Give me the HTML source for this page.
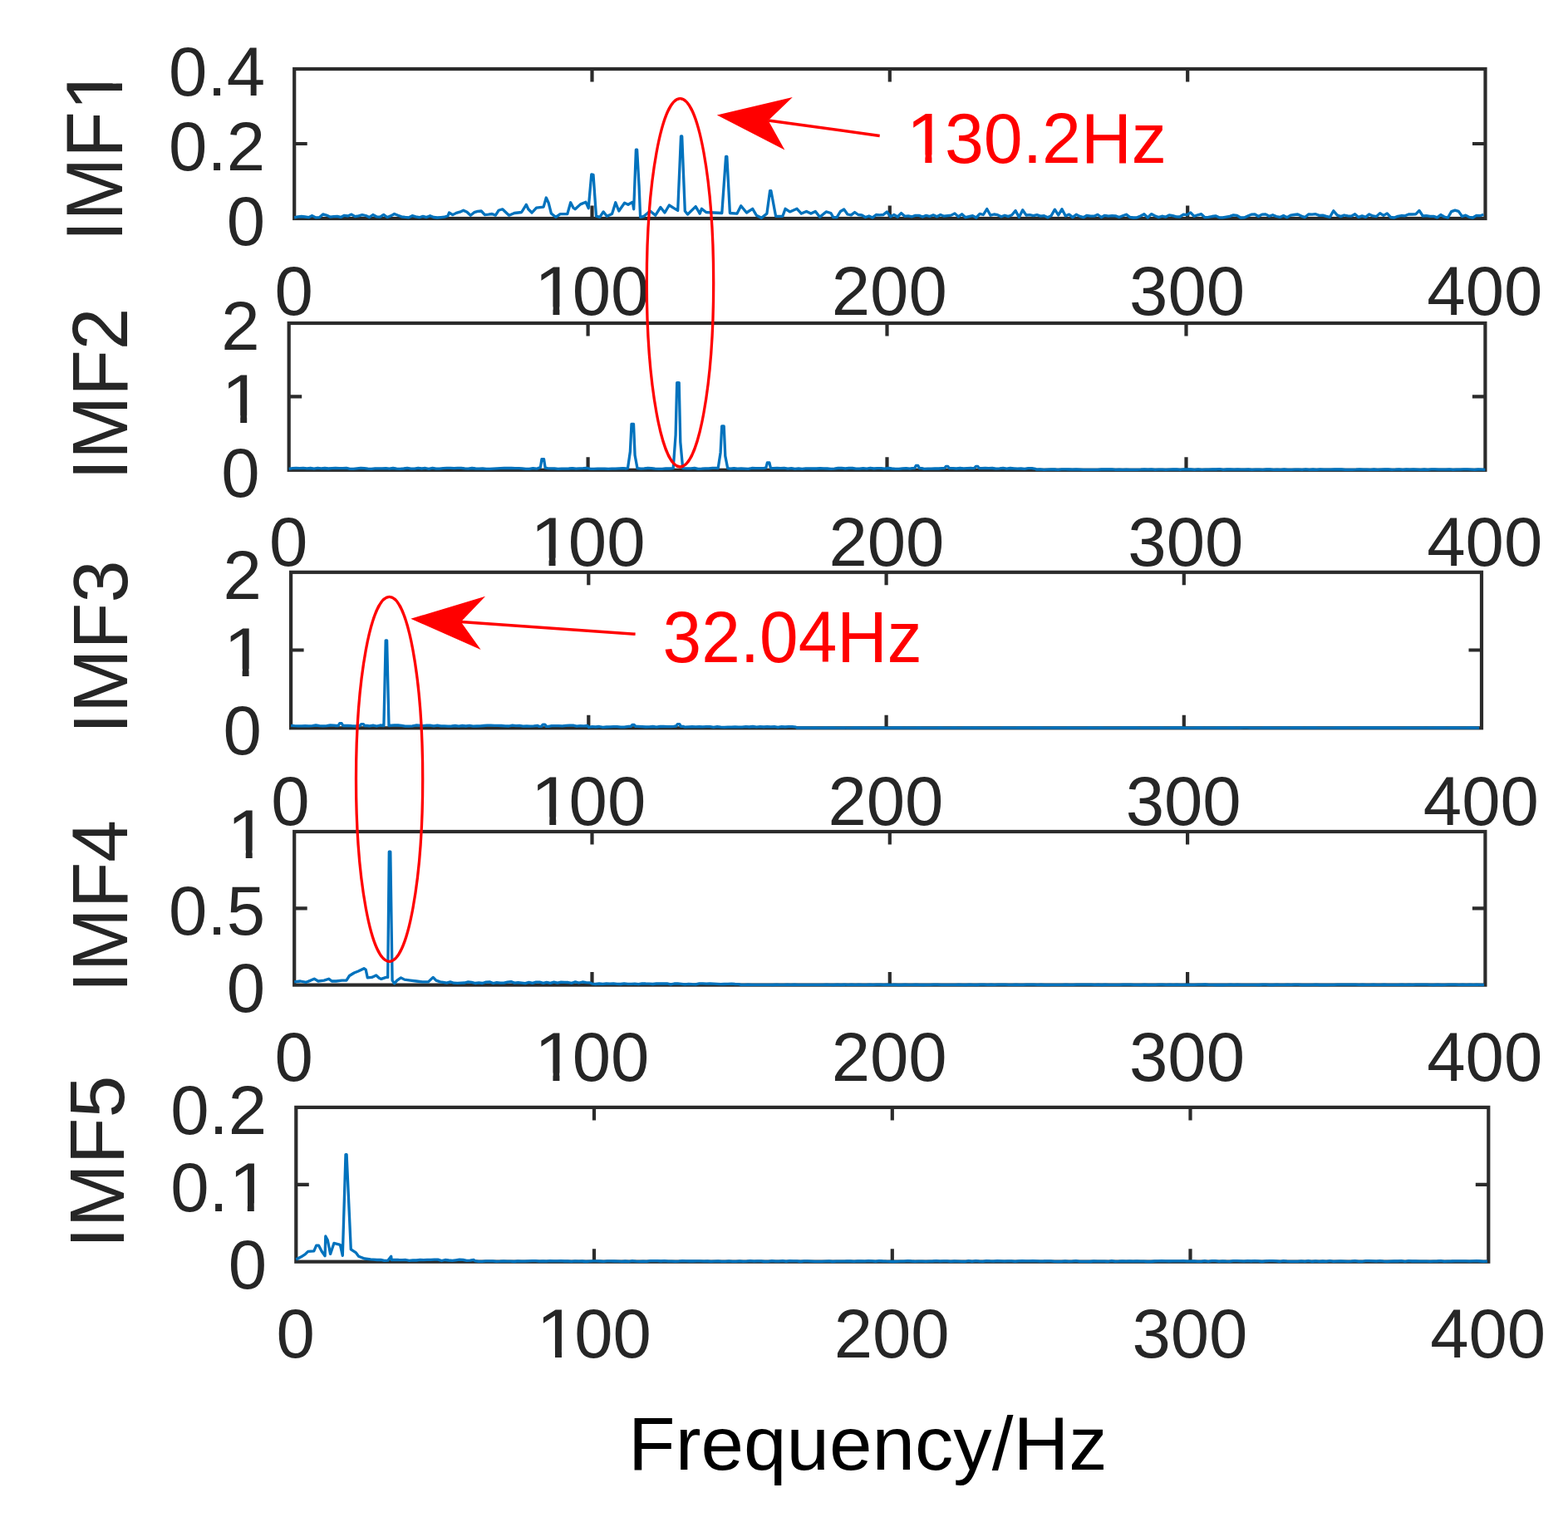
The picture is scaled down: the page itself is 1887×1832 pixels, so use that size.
<!DOCTYPE html>
<html><head><meta charset="utf-8"><title>IMF spectra</title>
<style>html,body{margin:0;padding:0;background:#fff;}svg{display:block;}</style></head>
<body>
<svg width="1887" height="1832" viewBox="0 0 1887 1832" font-family="'Liberation Sans', Arial, Helvetica, sans-serif">
<rect width="1887" height="1832" fill="#fff"/>
<defs><clipPath id="c1"><path d="M-2,-3H3V3H-2ZM0.0488,-0.1123H0.2515V0.12H0.0488ZM0.3398,-0.1123H0.5371V0.12H0.3398Z" clip-rule="evenodd"/></clipPath></defs>
<rect x="354.2" y="83.0" width="1433.3" height="180.0" fill="none" stroke="#2b2b2b" stroke-width="4.2"/>
<path d="M712.5,263.0V247.5M712.5,83.0V98.5M1070.8,263.0V247.5M1070.8,83.0V98.5M1429.2,263.0V247.5M1429.2,83.0V98.5M354.2,173.0H369.7M1787.5,173.0H1772.0" stroke="#2b2b2b" stroke-width="4.2" fill="none"/>
<polyline points="354.2,261.8 358.5,260.8 362.8,260.5 367.1,261.0 371.4,261.7 375.7,259.6 380.0,261.9 384.3,261.7 388.6,257.9 392.9,259.1 397.2,261.1 401.5,260.7 405.8,260.3 410.1,261.4 414.4,259.3 418.7,260.0 423.0,258.1 427.3,260.7 431.6,259.9 435.9,258.7 440.2,259.5 444.5,261.5 448.8,258.5 453.1,260.8 457.4,261.1 461.7,258.4 466.0,261.5 470.3,259.9 474.6,257.5 478.9,259.2 483.2,260.8 487.5,261.4 491.8,261.9 496.1,259.7 500.4,260.9 504.7,261.7 509.0,260.3 513.3,261.6 517.6,259.7 521.9,261.5 526.2,262.0 530.5,261.6 534.8,261.2 539.1,259.7 540.5,256.0 544.8,258.6 549.1,256.4 553.4,255.2 557.7,253.2 562.0,255.3 566.3,259.2 570.6,255.7 574.9,254.4 579.2,254.0 583.5,258.6 587.8,258.1 592.1,257.5 596.4,259.1 600.0,253.3 604.7,251.8 612.6,259.2 619.0,256.5 627.6,255.5 633.3,246.3 635.8,251.8 640.1,256.0 645.5,250.2 654.1,249.1 657.3,238.0 660.2,244.3 663.4,257.0 668.8,261.3 674.2,257.6 682.8,257.6 686.7,243.8 690.0,250.2 692.1,251.8 698.6,245.9 705.0,243.3 708.2,250.7 711.8,209.9 714.0,210.3 717.5,260.2 721.8,261.3 726.1,254.9 730.4,260.2 736.5,257.6 740.8,243.8 744.8,254.0 751.6,244.3 755.9,246.3 761.3,243.2 762.7,251.8 765.4,180.2 766.6,180.2 769.1,224.3 770.6,261.3 774.9,260.3 782.4,254.0 788.8,259.2 794.9,249.5 800.0,256.0 805.3,247.0 810.7,250.4 815.7,253.3 819.5,164.0 820.7,164.0 824.3,254.0 827.5,258.1 837.2,248.6 842.2,257.1 844.4,251.3 849.8,255.5 868.8,256.5 873.6,188.3 874.8,188.3 878.4,256.5 887.0,257.1 891.7,247.7 898.5,256.0 905.7,251.3 910.3,259.2 916.4,262.3 922.9,257.1 926.6,229.7 927.9,229.7 933.6,260.3 941.9,260.3 945.1,251.3 950.5,254.9 959.1,251.3 964.4,257.1 970.5,254.4 975.9,257.1 981.3,254.4 986.6,261.3 994.2,254.9 999.9,256.5 1002.8,261.6 1007.1,261.7 1011.4,254.5 1015.7,252.0 1020.0,258.0 1024.3,258.9 1028.6,255.5 1032.9,258.5 1037.2,259.0 1041.5,261.5 1045.8,260.0 1050.1,261.9 1054.4,258.5 1058.7,258.9 1063.0,258.5 1067.3,254.9 1071.6,260.9 1075.9,258.5 1080.2,261.0 1084.5,256.6 1088.8,260.3 1093.1,259.9 1097.4,260.8 1101.7,259.4 1106.0,259.4 1110.3,261.0 1114.6,259.3 1118.9,260.5 1123.2,258.8 1127.5,260.8 1131.8,258.5 1136.1,260.2 1140.4,259.6 1144.7,259.1 1149.0,256.9 1153.3,260.9 1157.6,257.7 1161.9,261.7 1166.2,260.6 1170.5,259.6 1174.8,262.0 1179.1,257.4 1183.4,258.5 1187.7,251.5 1192.0,259.2 1196.3,258.0 1200.6,258.7 1204.9,260.8 1209.2,259.2 1213.5,260.6 1217.8,258.7 1222.1,253.6 1226.4,261.4 1230.7,252.8 1235.0,259.0 1239.3,258.7 1243.6,259.6 1247.9,258.6 1252.2,260.1 1256.5,259.6 1260.8,261.8 1265.1,259.6 1269.4,252.2 1273.7,258.9 1278.0,251.7 1282.3,259.9 1286.6,258.1 1290.9,261.6 1295.2,258.2 1299.5,260.4 1303.8,261.7 1308.1,259.3 1312.4,260.1 1316.7,260.2 1321.0,258.3 1325.3,261.5 1329.6,259.3 1333.9,260.2 1338.2,259.7 1342.5,259.9 1346.8,261.5 1351.1,259.8 1355.4,258.2 1359.7,261.3 1364.0,262.0 1368.3,261.8 1372.6,260.0 1376.9,257.7 1381.2,261.9 1385.5,257.6 1389.8,259.7 1394.1,261.6 1398.4,260.2 1402.7,261.2 1407.0,258.9 1411.3,259.7 1415.6,260.8 1419.9,261.0 1424.2,258.2 1428.5,258.7 1432.8,255.9 1437.1,260.3 1441.4,258.8 1445.7,257.7 1450.0,261.7 1454.3,261.4 1458.6,260.5 1462.9,259.8 1467.2,261.8 1471.5,261.9 1475.8,261.1 1480.1,260.4 1484.4,258.8 1488.7,259.4 1493.0,262.0 1497.3,261.9 1501.6,260.1 1505.9,258.2 1510.2,258.0 1514.5,260.5 1518.8,258.1 1523.1,257.9 1527.4,260.3 1531.7,258.7 1536.0,260.5 1540.3,261.4 1544.6,259.5 1548.9,261.7 1553.2,259.1 1557.5,258.5 1561.8,258.0 1566.1,260.1 1570.4,261.6 1574.7,258.0 1579.0,258.2 1583.3,257.7 1587.6,259.4 1591.9,259.1 1596.2,260.4 1600.5,261.3 1604.8,253.7 1609.1,258.9 1613.4,260.6 1617.7,259.0 1622.0,259.8 1626.3,260.1 1630.6,257.7 1634.9,261.4 1639.2,259.9 1643.5,261.4 1647.8,257.9 1652.1,259.9 1656.4,260.6 1660.7,256.6 1665.0,259.4 1669.3,256.9 1673.6,261.5 1677.9,262.0 1682.2,260.3 1686.5,259.5 1690.8,259.8 1695.1,258.0 1699.4,258.0 1703.7,257.9 1708.0,253.4 1712.3,260.0 1716.6,259.7 1720.9,260.3 1725.2,260.3 1729.5,261.9 1733.8,258.5 1738.1,261.0 1742.4,262.0 1746.7,254.6 1751.0,253.1 1755.3,254.4 1759.6,260.5 1763.9,259.1 1768.2,261.4 1772.5,262.0 1776.8,259.4 1781.1,259.7 1785.4,258.2" fill="none" stroke="#0072BD" stroke-width="3.3" stroke-linejoin="round"/>
<g transform="matrix(83.3580 0 0 84.2000 330.42 378.63)"><text font-size="1" fill="#262626">0</text></g>
<g transform="matrix(83.3580 0 0 84.2000 642.38 378.63)" fill="#262626"><g transform="translate(0.0000,0) matrix(1.082 0 0 1 0.0048 0)"><text font-size="1" clip-path="url(#c1)">1</text></g><text x="0.5562" font-size="1">00</text></g>
<g transform="matrix(83.3580 0 0 84.2000 1000.71 378.63)"><text font-size="1" fill="#262626">200</text></g>
<g transform="matrix(83.3580 0 0 84.2000 1359.03 378.63)"><text font-size="1" fill="#262626">300</text></g>
<g transform="matrix(83.3580 0 0 84.2000 1717.36 378.63)"><text font-size="1" fill="#262626">400</text></g>
<g transform="matrix(83.3580 0 0 84.2000 272.64 294.94)"><text font-size="1" fill="#262626">0</text></g>
<g transform="matrix(83.3580 0 0 84.2000 203.12 204.94)"><text font-size="1" fill="#262626">0.2</text></g>
<g transform="matrix(83.3580 0 0 84.2000 203.12 114.94)"><text font-size="1" fill="#262626">0.4</text></g>
<g transform="matrix(0 -90.9210 97.0182 0 146.50 290.81)" fill="#262626"><text x="0.0000" font-size="1">IMF</text><g transform="translate(1.7217,0) matrix(1.082 0 0 1 0.0048 0)"><text font-size="1" clip-path="url(#c1)">1</text></g></g>
<rect x="347.7" y="389.0" width="1439.7" height="176.8" fill="none" stroke="#2b2b2b" stroke-width="4.2"/>
<path d="M707.6,565.8V550.3M707.6,389.0V404.5M1067.5,565.8V550.3M1067.5,389.0V404.5M1427.5,565.8V550.3M1427.5,389.0V404.5M347.7,477.4H363.2M1787.4,477.4H1771.9" stroke="#2b2b2b" stroke-width="4.2" fill="none"/>
<polyline points="347.7,564.3 352.0,563.7 356.3,563.4 360.7,563.7 365.0,563.4 369.3,563.8 373.6,563.5 377.9,564.2 382.3,563.4 386.6,563.9 390.9,563.5 395.2,564.0 399.5,563.7 403.8,563.5 408.2,563.6 412.5,563.7 416.8,563.4 421.1,564.3 425.4,564.3 429.8,563.8 434.1,563.4 438.4,563.7 442.7,564.1 447.0,564.3 451.4,563.9 455.7,563.9 460.0,563.9 464.3,563.7 468.6,564.1 473.0,563.5 477.3,564.1 481.6,564.3 485.9,564.0 490.2,563.4 494.5,564.2 498.9,564.1 503.2,563.4 507.5,564.0 511.8,563.5 516.1,564.3 520.5,563.4 524.8,564.1 529.1,564.2 533.4,563.6 537.7,563.3 542.1,563.4 546.4,563.6 550.7,563.4 555.0,563.3 559.3,563.8 563.7,564.2 568.0,563.5 572.3,564.0 576.6,564.1 580.9,563.9 585.3,564.3 589.6,564.4 593.9,564.1 598.2,563.8 602.5,563.6 606.8,563.4 611.2,563.5 615.5,563.4 619.8,563.7 624.1,563.6 628.4,563.8 632.8,564.3 637.1,564.3 641.4,563.6 645.7,564.2 647.5,563.6 650.4,562.5 652.0,552.6 654.5,552.6 656.2,563.2 659.0,563.6 663.0,563.8 667.3,563.9 671.6,564.3 676.0,564.1 680.3,564.1 684.6,564.0 688.9,563.6 693.2,564.2 697.5,563.9 701.9,563.7 706.2,563.4 710.5,564.3 714.8,564.3 719.1,564.2 723.5,564.2 727.8,564.2 732.1,564.3 736.4,564.2 740.7,564.1 745.1,563.9 749.4,563.7 753.7,564.0 755.5,563.6 758.4,543.6 760.0,510.3 762.5,510.3 764.1,548.0 767.0,563.6 771.0,564.2 775.3,563.9 779.6,563.5 783.9,563.6 788.2,564.2 792.6,564.3 796.9,564.3 801.2,563.9 805.5,564.0 810.2,563.6 813.1,523.7 814.7,460.6 817.2,460.6 818.8,532.1 821.7,563.6 827.1,563.8 831.4,563.8 835.8,563.4 840.1,564.3 844.4,564.2 848.7,563.8 853.0,563.8 857.4,563.3 861.7,563.3 864.2,563.6 867.1,544.7 868.7,513.0 871.2,513.0 872.8,548.9 875.7,563.6 878.9,564.2 883.3,563.7 887.6,564.1 891.9,564.0 896.2,564.2 900.5,564.4 904.9,563.5 909.2,563.6 913.5,563.6 918.9,563.6 921.8,563.1 923.4,557.0 925.9,557.0 927.5,563.6 930.4,563.6 935.1,563.5 939.4,563.6 943.7,563.4 948.1,564.1 952.4,563.6 956.7,564.3 961.0,563.8 965.3,564.3 969.7,563.8 974.0,563.8 978.3,564.0 982.6,564.0 986.9,563.6 991.2,563.9 995.6,564.0 999.9,564.3 1004.2,564.1 1008.5,563.5 1012.8,563.4 1017.2,564.0 1021.5,563.5 1025.8,563.5 1030.1,564.2 1034.4,564.1 1038.8,563.6 1043.1,564.1 1047.4,563.4 1051.7,564.0 1056.0,563.6 1060.4,563.6 1064.7,564.2 1069.0,563.5 1073.3,564.0 1077.6,564.3 1081.9,564.3 1086.3,563.9 1090.6,563.7 1094.9,564.1 1097.8,563.6 1100.7,563.6 1102.3,560.5 1104.8,560.5 1106.4,563.6 1109.3,563.6 1112.2,564.4 1116.5,564.1 1120.8,564.2 1125.1,563.9 1129.5,564.0 1133.8,563.6 1136.7,563.6 1138.3,561.4 1140.8,561.4 1142.4,563.6 1145.3,563.6 1146.7,563.7 1151.1,564.0 1155.4,563.5 1159.7,563.9 1164.0,563.6 1168.3,563.4 1169.8,563.6 1172.6,563.6 1174.3,561.4 1176.8,561.4 1178.4,563.6 1181.3,563.6 1185.6,563.4 1189.9,563.6 1194.2,563.5 1198.6,564.2 1202.9,563.9 1207.2,563.4 1211.5,564.1 1215.8,563.5 1220.2,563.8 1224.5,564.2 1228.8,564.0 1233.1,564.3 1237.4,563.7 1241.8,563.6 1246.1,564.4 1247.5,565.2 1251.8,564.9 1256.2,565.3 1260.5,565.1 1264.8,564.9 1269.1,565.0 1273.4,565.4 1277.7,564.8 1282.1,564.9 1286.4,565.0 1290.7,565.2 1295.0,565.0 1299.3,565.2 1303.7,565.4 1308.0,565.4 1312.3,565.4 1316.6,565.3 1320.9,565.3 1325.3,565.0 1329.6,565.0 1333.9,565.0 1338.2,564.9 1342.5,565.4 1346.9,565.2 1351.2,565.4 1355.5,565.2 1359.8,565.4 1364.1,565.4 1368.4,565.4 1372.8,565.2 1377.1,564.9 1381.4,565.2 1385.7,564.9 1390.0,565.3 1394.4,565.2 1398.7,565.1 1403.0,565.4 1407.3,565.1 1411.6,565.0 1416.0,564.9 1420.3,565.4 1424.6,564.9 1428.9,565.0 1433.2,565.0 1437.6,565.4 1441.9,564.8 1446.2,565.3 1450.5,565.1 1454.8,565.1 1459.1,564.8 1463.5,565.0 1467.8,564.7 1472.1,565.3 1476.4,565.0 1480.7,565.0 1485.1,565.1 1489.4,565.0 1493.7,565.1 1498.0,565.2 1502.3,565.0 1506.7,565.4 1511.0,565.1 1515.3,565.1 1519.6,565.3 1523.9,565.0 1528.3,565.0 1532.6,565.4 1536.9,565.2 1541.2,565.4 1545.5,565.0 1549.8,565.4 1554.2,565.3 1558.5,565.1 1562.8,565.1 1567.1,565.4 1571.4,564.8 1575.8,565.3 1580.1,565.0 1584.4,565.3 1588.7,565.0 1593.0,565.2 1597.4,565.2 1601.7,565.1 1606.0,565.0 1610.3,565.0 1614.6,565.0 1619.0,565.3 1623.3,565.4 1627.6,565.3 1631.9,565.2 1636.2,565.0 1640.6,565.2 1644.9,565.2 1649.2,565.4 1653.5,565.0 1657.8,565.4 1662.1,565.1 1666.5,565.0 1670.8,565.0 1675.1,565.3 1679.4,565.2 1683.7,564.8 1688.1,565.4 1692.4,565.0 1696.7,565.1 1701.0,565.0 1705.3,565.2 1709.7,565.4 1714.0,565.0 1718.3,565.4 1722.6,564.8 1726.9,564.9 1731.3,565.2 1735.6,565.1 1739.9,565.1 1744.2,564.8 1748.5,565.4 1752.8,565.2 1757.2,565.2 1761.5,564.9 1765.8,564.9 1770.1,565.1 1774.4,565.4 1778.8,565.0 1783.1,565.2 1787.4,565.4" fill="none" stroke="#0072BD" stroke-width="3.3" stroke-linejoin="round"/>
<g transform="matrix(83.3580 0 0 84.2000 323.92 680.93)"><text font-size="1" fill="#262626">0</text></g>
<g transform="matrix(83.3580 0 0 84.2000 637.48 680.93)" fill="#262626"><g transform="translate(0.0000,0) matrix(1.082 0 0 1 0.0048 0)"><text font-size="1" clip-path="url(#c1)">1</text></g><text x="0.5562" font-size="1">00</text></g>
<g transform="matrix(83.3580 0 0 84.2000 997.41 680.93)"><text font-size="1" fill="#262626">200</text></g>
<g transform="matrix(83.3580 0 0 84.2000 1357.33 680.93)"><text font-size="1" fill="#262626">300</text></g>
<g transform="matrix(83.3580 0 0 84.2000 1717.26 680.93)"><text font-size="1" fill="#262626">400</text></g>
<g transform="matrix(83.3580 0 0 84.2000 266.14 597.74)"><text font-size="1" fill="#262626">0</text></g>
<g transform="matrix(83.3580 0 0 84.2000 266.14 509.34)" fill="#262626"><g transform="translate(0.0000,0) matrix(1.082 0 0 1 0.0048 0)"><text font-size="1" clip-path="url(#c1)">1</text></g></g>
<g transform="matrix(83.3580 0 0 84.2000 266.14 421.36)"><text font-size="1" fill="#262626">2</text></g>
<g transform="matrix(0 -91.1007 94.3369 0 153.30 578.03)"><text font-size="1" fill="#262626">IMF2</text></g>
<rect x="350.1" y="688.8" width="1432.9" height="187.5" fill="none" stroke="#2b2b2b" stroke-width="4.2"/>
<path d="M708.3,876.3V860.8M708.3,688.8V704.3M1066.6,876.3V860.8M1066.6,688.8V704.3M1424.8,876.3V860.8M1424.8,688.8V704.3M350.1,782.5H365.6M1783.0,782.5H1767.5" stroke="#2b2b2b" stroke-width="4.2" fill="none"/>
<polyline points="350.1,873.4 354.4,873.7 358.7,873.8 363.0,873.9 367.3,873.6 371.6,873.9 375.9,873.7 380.2,873.0 384.5,873.6 388.8,873.9 393.1,873.6 397.4,873.0 401.7,873.1 404.2,873.5 407.1,873.5 408.7,870.7 411.2,870.7 412.8,873.5 415.7,873.5 418.9,873.3 423.2,873.7 427.5,874.0 430.3,873.5 433.2,873.5 434.8,871.6 437.3,871.6 438.9,873.5 441.8,873.5 444.7,873.8 449.0,873.1 453.3,874.0 457.6,873.0 461.9,873.5 464.2,770.9 465.6,770.9 468.0,873.5 474.8,872.9 479.1,873.0 483.4,873.4 487.7,874.1 492.0,874.2 496.3,873.9 500.6,873.0 504.9,873.2 509.2,873.7 513.5,873.2 517.7,873.1 522.0,873.8 526.3,873.1 530.6,873.9 534.9,873.8 539.2,874.2 543.5,874.0 547.8,873.5 552.1,874.2 556.4,873.5 560.7,874.0 565.0,873.3 569.3,874.1 573.6,874.0 577.9,873.9 582.2,873.5 586.5,873.2 590.8,873.2 595.1,873.3 599.4,873.3 603.7,873.5 608.0,873.8 612.3,874.0 616.6,873.1 620.9,873.7 625.2,873.4 629.5,874.1 633.8,873.8 638.1,874.1 642.4,873.8 646.7,873.3 648.9,874.4 651.7,874.2 653.3,872.1 655.8,872.1 657.5,874.4 660.3,874.4 663.9,873.7 668.2,873.7 672.5,873.6 676.8,873.9 681.1,873.3 685.4,873.1 689.7,873.2 694.0,874.2 698.3,873.6 702.6,873.8 706.9,873.5 708.3,875.3 712.6,874.7 716.9,875.0 721.2,874.5 725.5,875.3 729.8,875.0 734.1,874.9 738.4,874.6 742.7,874.7 747.0,875.2 751.3,875.1 756.3,874.4 759.2,874.4 760.8,872.5 763.3,872.5 764.9,874.4 767.8,874.4 772.8,874.6 777.1,875.0 781.4,874.8 785.7,874.5 790.0,875.2 794.3,874.5 798.6,874.5 802.9,874.7 807.2,874.7 810.8,874.4 813.6,874.0 815.3,871.6 817.8,871.6 819.4,874.4 822.2,874.4 824.4,875.2 828.7,874.8 833.0,874.7 837.3,874.9 841.6,874.7 845.9,874.9 850.2,874.6 854.5,874.7 858.8,875.3 863.1,874.6 867.4,875.1 871.7,875.3 876.0,875.2 880.3,875.1 884.6,874.9 888.9,875.1 893.2,875.2 897.5,874.6 901.8,875.0 906.1,874.5 910.4,875.1 914.7,874.7 919.0,875.0 923.3,874.6 927.6,874.8 931.9,874.7 936.2,875.3 940.5,874.7 944.8,875.0 949.1,874.7 953.4,874.6 957.6,875.2 959.1,876.2 963.4,876.0 967.7,875.9 972.0,876.0 976.3,876.1 980.6,876.0 984.9,876.2 989.2,876.2 993.5,876.0 997.8,876.1 1002.1,876.0 1006.4,876.1 1010.7,876.1 1015.0,875.9 1019.3,876.1 1023.6,876.1 1027.9,876.0 1032.2,875.9 1036.5,876.2 1040.8,876.0 1045.1,876.1 1049.4,876.1 1053.7,876.1 1058.0,876.1 1062.3,876.0 1066.5,876.1 1070.8,876.1 1075.1,876.0 1079.4,876.0 1083.7,876.0 1088.0,876.1 1092.3,875.9 1096.6,876.2 1100.9,876.2 1105.2,876.0 1109.5,876.1 1113.8,876.2 1118.1,876.1 1122.4,876.1 1126.7,876.1 1131.0,876.0 1135.3,876.1 1139.6,876.2 1143.9,876.1 1148.2,875.9 1152.5,876.1 1156.8,876.1 1161.1,876.0 1165.4,875.9 1169.7,876.1 1174.0,876.0 1178.3,876.1 1182.6,876.1 1186.9,876.0 1191.2,876.1 1195.5,876.1 1199.8,876.2 1204.1,876.1 1208.4,876.0 1212.7,876.0 1217.0,876.2 1221.3,876.1 1225.6,876.0 1229.9,876.0 1234.2,876.0 1238.5,876.0 1242.8,876.1 1247.1,876.0 1251.4,876.0 1255.7,876.1 1260.0,876.1 1264.3,876.2 1268.6,876.0 1272.9,876.0 1277.2,876.2 1281.5,876.1 1285.8,875.9 1290.1,876.2 1294.4,876.2 1298.7,876.2 1303.0,876.1 1307.3,876.1 1311.6,876.0 1315.9,876.2 1320.2,876.1 1324.5,875.9 1328.8,876.2 1333.1,876.1 1337.4,876.1 1341.7,876.2 1346.0,876.1 1350.3,876.0 1354.6,876.0 1358.9,876.0 1363.2,876.0 1367.5,876.0 1371.8,876.2 1376.1,876.0 1380.4,876.0 1384.7,876.1 1389.0,876.1 1393.3,876.1 1397.5,876.0 1401.8,876.1 1406.1,876.2 1410.4,876.0 1414.7,876.0 1419.0,876.0 1423.3,876.0 1427.6,876.1 1431.9,876.1 1436.2,876.1 1440.5,876.0 1444.8,875.9 1449.1,876.1 1453.4,876.0 1457.7,876.2 1462.0,876.2 1466.3,875.9 1470.6,876.1 1474.9,876.1 1479.2,875.9 1483.5,876.0 1487.8,876.1 1492.1,876.0 1496.4,875.9 1500.7,875.9 1505.0,876.2 1509.3,876.2 1513.6,876.1 1517.9,876.2 1522.2,876.0 1526.5,876.0 1530.8,876.2 1535.1,876.2 1539.4,876.1 1543.7,876.0 1548.0,876.0 1552.3,876.1 1556.6,876.0 1560.9,875.9 1565.2,876.0 1569.5,876.2 1573.8,876.0 1578.1,876.0 1582.4,876.0 1586.7,876.1 1591.0,876.2 1595.3,876.1 1599.6,876.1 1603.9,876.1 1608.2,876.0 1612.5,876.0 1616.8,876.0 1621.1,876.0 1625.4,876.2 1629.7,876.2 1634.0,876.1 1638.3,876.0 1642.6,876.0 1646.9,876.0 1651.2,876.0 1655.5,876.0 1659.8,875.9 1664.1,876.0 1668.4,876.0 1672.7,875.9 1677.0,876.0 1681.3,876.0 1685.6,876.2 1689.9,876.2 1694.2,875.9 1698.5,876.1 1702.8,876.1 1707.1,876.2 1711.4,876.0 1715.7,876.2 1720.0,876.0 1724.3,876.1 1728.5,876.0 1732.8,876.0 1737.1,876.0 1741.4,876.1 1745.7,876.0 1750.0,876.0 1754.3,876.0 1758.6,876.1 1762.9,876.2 1767.2,876.0 1771.5,876.0 1775.8,876.2 1780.1,876.1" fill="none" stroke="#0072BD" stroke-width="3.3" stroke-linejoin="round"/>
<g transform="matrix(83.3580 0 0 84.2000 326.32 992.63)"><text font-size="1" fill="#262626">0</text></g>
<g transform="matrix(83.3580 0 0 84.2000 638.18 992.63)" fill="#262626"><g transform="translate(0.0000,0) matrix(1.082 0 0 1 0.0048 0)"><text font-size="1" clip-path="url(#c1)">1</text></g><text x="0.5562" font-size="1">00</text></g>
<g transform="matrix(83.3580 0 0 84.2000 996.41 992.63)"><text font-size="1" fill="#262626">200</text></g>
<g transform="matrix(83.3580 0 0 84.2000 1354.63 992.63)"><text font-size="1" fill="#262626">300</text></g>
<g transform="matrix(83.3580 0 0 84.2000 1712.86 992.63)"><text font-size="1" fill="#262626">400</text></g>
<g transform="matrix(83.3580 0 0 84.2000 268.54 908.24)"><text font-size="1" fill="#262626">0</text></g>
<g transform="matrix(83.3580 0 0 84.2000 268.54 814.49)" fill="#262626"><g transform="translate(0.0000,0) matrix(1.082 0 0 1 0.0048 0)"><text font-size="1" clip-path="url(#c1)">1</text></g></g>
<g transform="matrix(83.3580 0 0 84.2000 268.54 721.16)"><text font-size="1" fill="#262626">2</text></g>
<g transform="matrix(0 -91.7620 93.1449 0 152.77 883.39)"><text font-size="1" fill="#262626">IMF3</text></g>
<rect x="354.2" y="1001.0" width="1433.2" height="184.6" fill="none" stroke="#2b2b2b" stroke-width="4.2"/>
<path d="M712.5,1185.6V1170.1M712.5,1001.0V1016.5M1070.8,1185.6V1170.1M1070.8,1001.0V1016.5M1429.1,1185.6V1170.1M1429.1,1001.0V1016.5M354.2,1093.3H369.7M1787.4,1093.3H1771.9" stroke="#2b2b2b" stroke-width="4.2" fill="none"/>
<polyline points="354.2,1181.9 361.4,1181.0 368.5,1182.3 373.9,1180.1 378.2,1178.2 382.9,1181.0 390.0,1180.1 395.8,1178.2 399.3,1181.0 404.4,1181.0 411.5,1180.1 416.9,1180.1 420.5,1174.5 426.2,1171.0 431.2,1169.0 438.0,1165.7 440.2,1167.1 442.3,1176.9 447.4,1176.4 452.7,1174.0 456.3,1177.3 458.8,1178.4 464.6,1176.4 466.7,1176.4 468.3,1025.2 469.8,1025.2 472.1,1180.1 474.6,1183.8 477.8,1180.1 482.5,1176.9 486.8,1179.1 493.9,1180.1 501.1,1181.0 508.3,1181.9 515.4,1181.9 521.2,1176.4 524.8,1180.1 529.8,1181.9 533.4,1182.4 537.6,1183.1 541.9,1181.8 546.2,1183.2 550.5,1183.4 554.8,1183.1 559.1,1183.0 563.4,1181.8 567.7,1182.3 572.0,1183.5 576.3,1182.9 580.6,1183.5 584.9,1182.2 589.2,1181.9 593.5,1183.5 597.8,1182.6 602.1,1183.2 606.4,1183.1 610.7,1182.1 615.0,1181.6 619.3,1183.1 623.6,1182.6 627.9,1183.1 632.2,1183.6 636.5,1182.4 640.8,1183.4 645.1,1182.2 649.4,1182.1 653.7,1183.4 658.0,1182.4 662.3,1183.3 666.6,1182.1 670.9,1183.1 675.2,1182.2 679.5,1182.3 683.8,1182.5 688.1,1183.3 692.4,1181.9 696.7,1183.0 701.0,1182.0 705.3,1182.7 709.6,1182.8 712.5,1184.1 716.8,1184.5 721.1,1184.0 725.4,1184.4 729.7,1184.0 734.0,1184.1 738.3,1183.8 742.6,1184.4 746.9,1184.5 751.2,1183.8 755.5,1184.3 759.8,1184.4 764.1,1184.1 768.4,1184.6 772.7,1183.8 777.0,1184.0 781.3,1184.1 785.6,1184.5 789.9,1184.0 794.2,1183.8 798.5,1184.0 802.8,1183.9 807.1,1184.8 811.4,1184.0 815.7,1183.9 820.0,1184.3 824.3,1184.8 828.6,1184.3 832.9,1184.6 837.2,1184.8 841.5,1183.8 845.8,1183.9 850.1,1184.2 854.4,1184.0 858.7,1184.1 863.0,1184.3 867.3,1184.7 871.6,1184.5 875.9,1184.3 880.2,1184.2 884.5,1184.5 888.8,1184.7 891.7,1185.3 895.9,1185.4 900.2,1185.1 904.5,1185.4 908.8,1185.3 913.1,1185.3 917.4,1185.4 921.7,1185.3 926.0,1185.3 930.3,1185.5 934.6,1185.1 938.9,1185.3 943.2,1185.4 947.5,1185.1 951.8,1185.4 956.1,1185.2 960.4,1185.3 964.7,1185.4 969.0,1185.3 973.3,1185.3 977.6,1185.3 981.9,1185.4 986.2,1185.3 990.5,1185.3 994.8,1185.2 999.1,1185.4 1003.4,1185.5 1007.7,1185.1 1012.0,1185.5 1016.3,1185.2 1020.6,1185.3 1024.9,1185.1 1029.2,1185.4 1033.5,1185.1 1037.8,1185.4 1042.1,1185.4 1046.4,1185.2 1050.7,1185.4 1055.0,1185.2 1059.3,1185.2 1063.6,1185.4 1067.9,1185.1 1072.2,1185.3 1076.5,1185.1 1080.8,1185.5 1085.1,1185.5 1089.4,1185.2 1093.7,1185.4 1098.0,1185.3 1102.3,1185.1 1106.6,1185.3 1110.9,1185.5 1115.2,1185.4 1119.5,1185.3 1123.8,1185.2 1128.1,1185.2 1132.4,1185.3 1136.7,1185.4 1141.0,1185.4 1145.3,1185.4 1149.6,1185.4 1153.9,1185.1 1158.2,1185.3 1162.5,1185.5 1166.8,1185.2 1171.1,1185.3 1175.4,1185.5 1179.7,1185.1 1184.0,1185.1 1188.3,1185.4 1192.6,1185.1 1196.9,1185.3 1201.2,1185.2 1205.5,1185.2 1209.8,1185.2 1214.1,1185.3 1218.4,1185.4 1222.7,1185.1 1227.0,1185.3 1231.3,1185.3 1235.6,1185.2 1239.9,1185.2 1244.2,1185.1 1248.5,1185.3 1252.8,1185.2 1257.1,1185.5 1261.4,1185.5 1265.7,1185.4 1270.0,1185.4 1274.3,1185.3 1278.6,1185.4 1282.9,1185.1 1287.2,1185.3 1291.5,1185.3 1295.8,1185.1 1300.1,1185.1 1304.4,1185.2 1308.7,1185.1 1313.0,1185.2 1317.3,1185.4 1321.6,1185.1 1325.9,1185.5 1330.2,1185.1 1334.5,1185.3 1338.8,1185.4 1343.1,1185.3 1347.4,1185.3 1351.7,1185.1 1356.0,1185.1 1360.3,1185.2 1364.6,1185.4 1368.9,1185.3 1373.2,1185.5 1377.5,1185.2 1381.8,1185.5 1386.1,1185.3 1390.4,1185.4 1394.7,1185.1 1399.0,1185.1 1403.3,1185.4 1407.6,1185.1 1411.9,1185.4 1416.2,1185.2 1420.5,1185.4 1424.8,1185.3 1429.1,1185.2 1433.4,1185.3 1437.7,1185.4 1442.0,1185.2 1446.3,1185.1 1450.6,1185.0 1454.9,1185.4 1459.2,1185.4 1463.5,1185.5 1467.8,1185.4 1472.1,1185.5 1476.4,1185.4 1480.7,1185.2 1485.0,1185.5 1489.3,1185.2 1493.6,1185.4 1497.9,1185.4 1502.2,1185.3 1506.5,1185.3 1510.8,1185.3 1515.1,1185.5 1519.4,1185.2 1523.7,1185.1 1528.0,1185.5 1532.3,1185.5 1536.6,1185.2 1540.9,1185.4 1545.2,1185.4 1549.5,1185.1 1553.8,1185.4 1558.1,1185.1 1562.4,1185.2 1566.7,1185.5 1571.0,1185.4 1575.3,1185.5 1579.6,1185.3 1583.9,1185.1 1588.2,1185.5 1592.5,1185.5 1596.8,1185.5 1601.1,1185.4 1605.4,1185.4 1609.7,1185.1 1614.0,1185.2 1618.3,1185.1 1622.6,1185.2 1626.9,1185.1 1631.2,1185.2 1635.5,1185.4 1639.8,1185.2 1644.1,1185.4 1648.4,1185.3 1652.7,1185.1 1657.0,1185.4 1661.3,1185.4 1665.6,1185.1 1669.9,1185.3 1674.2,1185.4 1678.5,1185.4 1682.8,1185.4 1687.1,1185.1 1691.4,1185.3 1695.7,1185.1 1700.0,1185.3 1704.3,1185.1 1708.6,1185.1 1712.9,1185.2 1717.2,1185.1 1721.5,1185.4 1725.8,1185.5 1730.1,1185.2 1734.4,1185.5 1738.7,1185.3 1743.0,1185.2 1747.3,1185.2 1751.6,1185.1 1755.9,1185.4 1760.2,1185.1 1764.5,1185.3 1768.8,1185.2 1773.1,1185.3 1777.4,1185.1 1781.7,1185.4 1786.0,1185.5" fill="none" stroke="#0072BD" stroke-width="3.3" stroke-linejoin="round"/>
<g transform="matrix(83.3580 0 0 84.2000 330.42 1301.03)"><text font-size="1" fill="#262626">0</text></g>
<g transform="matrix(83.3580 0 0 84.2000 642.36 1301.03)" fill="#262626"><g transform="translate(0.0000,0) matrix(1.082 0 0 1 0.0048 0)"><text font-size="1" clip-path="url(#c1)">1</text></g><text x="0.5562" font-size="1">00</text></g>
<g transform="matrix(83.3580 0 0 84.2000 1000.66 1301.03)"><text font-size="1" fill="#262626">200</text></g>
<g transform="matrix(83.3580 0 0 84.2000 1358.96 1301.03)"><text font-size="1" fill="#262626">300</text></g>
<g transform="matrix(83.3580 0 0 84.2000 1717.26 1301.03)"><text font-size="1" fill="#262626">400</text></g>
<g transform="matrix(83.3580 0 0 84.2000 272.64 1217.54)"><text font-size="1" fill="#262626">0</text></g>
<g transform="matrix(83.3580 0 0 84.2000 203.12 1125.24)"><text font-size="1" fill="#262626">0.5</text></g>
<g transform="matrix(83.3580 0 0 84.2000 272.64 1032.94)" fill="#262626"><g transform="translate(0.0000,0) matrix(1.082 0 0 1 0.0048 0)"><text font-size="1" clip-path="url(#c1)">1</text></g></g>
<g transform="matrix(0 -91.1833 95.2727 0 153.30 1194.63)"><text font-size="1" fill="#262626">IMF4</text></g>
<rect x="356.3" y="1332.9" width="1435.0" height="185.8" fill="none" stroke="#2b2b2b" stroke-width="4.2"/>
<path d="M715.0,1518.7V1503.2M715.0,1332.9V1348.4M1073.8,1518.7V1503.2M1073.8,1332.9V1348.4M1432.5,1518.7V1503.2M1432.5,1332.9V1348.4M356.3,1425.8H371.8M1791.3,1425.8H1775.8" stroke="#2b2b2b" stroke-width="4.2" fill="none"/>
<polyline points="356.3,1515.9 362.0,1513.1 367.1,1509.9 370.7,1506.3 377.8,1505.9 380.7,1499.2 383.6,1499.2 387.2,1506.2 391.1,1511.7 391.8,1488.0 394.3,1492.7 397.6,1509.4 401.9,1496.4 409.4,1498.3 412.3,1511.3 416.0,1389.6 417.1,1389.6 422.3,1503.8 428.1,1507.6 431.6,1512.2 438.8,1515.0 446.0,1515.9 449.6,1516.2 453.9,1516.5 458.2,1516.4 462.5,1517.4 466.8,1517.2 470.7,1512.2 471.1,1516.5 475.4,1516.3 479.7,1516.5 484.0,1516.6 488.3,1516.5 492.6,1517.3 496.9,1516.8 501.2,1517.0 505.5,1516.4 509.8,1516.7 514.1,1516.4 518.5,1516.4 522.8,1516.1 527.1,1516.2 531.4,1517.5 535.7,1516.5 540.0,1517.0 544.3,1517.4 548.6,1516.8 552.9,1516.2 557.2,1516.3 561.5,1517.4 565.8,1517.2 570.1,1516.4 571.5,1517.6 575.9,1518.4 580.2,1518.4 584.5,1517.9 588.8,1517.9 593.1,1517.8 597.4,1518.3 601.7,1518.1 606.0,1517.8 610.3,1518.2 614.6,1518.1 618.9,1518.5 623.2,1517.8 627.5,1518.1 631.8,1518.2 636.1,1517.9 640.4,1517.7 644.7,1517.7 649.0,1518.2 653.3,1517.9 657.7,1518.2 662.0,1517.7 666.3,1517.8 670.6,1517.9 674.9,1517.7 679.2,1518.0 683.5,1518.0 687.8,1518.4 692.1,1517.9 696.4,1518.2 700.7,1518.0 705.0,1518.5 709.3,1518.1 713.6,1517.9 717.9,1517.9 722.2,1518.0 726.5,1518.3 730.8,1517.9 735.1,1517.9 739.4,1518.0 743.8,1518.2 748.1,1518.4 752.4,1518.0 756.7,1518.5 761.0,1517.7 765.3,1518.2 769.6,1518.3 773.9,1518.1 778.2,1518.4 782.5,1517.7 786.8,1517.6 791.1,1517.7 795.4,1518.0 799.7,1517.6 804.0,1518.2 808.3,1518.1 812.6,1518.4 816.9,1518.1 821.2,1517.7 825.5,1517.9 829.9,1518.0 834.2,1518.0 838.5,1517.9 842.8,1517.9 847.1,1518.1 851.4,1518.0 855.7,1518.4 860.0,1518.1 864.3,1517.9 868.6,1518.3 872.9,1518.3 877.2,1517.8 881.5,1518.4 885.8,1518.3 890.1,1517.8 894.4,1518.4 898.7,1518.2 903.0,1517.7 907.3,1518.1 911.6,1517.8 916.0,1517.8 920.3,1518.5 924.6,1518.3 928.9,1517.7 933.2,1518.2 937.5,1518.1 941.8,1517.6 946.1,1518.4 950.4,1517.6 954.7,1517.9 959.0,1517.9 963.3,1518.5 967.6,1517.9 971.9,1517.8 976.2,1518.1 980.5,1518.4 984.8,1518.4 989.1,1518.4 993.4,1518.1 997.7,1517.8 1002.1,1518.5 1006.4,1518.1 1010.7,1518.1 1015.0,1518.1 1019.3,1518.0 1023.6,1518.0 1027.9,1518.3 1032.2,1517.8 1036.5,1518.0 1040.8,1518.2 1045.1,1517.6 1049.4,1517.9 1053.7,1518.4 1058.0,1517.6 1062.3,1518.0 1066.6,1518.2 1070.9,1518.3 1075.2,1518.5 1079.5,1518.3 1083.8,1518.2 1088.2,1518.2 1092.5,1517.6 1096.8,1518.0 1101.1,1518.3 1105.4,1518.2 1109.7,1518.1 1114.0,1518.4 1118.3,1518.1 1122.6,1518.0 1126.9,1517.7 1131.2,1518.1 1135.5,1517.9 1139.8,1517.9 1144.1,1518.4 1148.4,1518.0 1152.7,1518.1 1157.0,1518.4 1161.3,1518.5 1165.6,1517.6 1169.9,1518.4 1174.3,1517.7 1178.6,1518.2 1182.9,1518.4 1187.2,1517.6 1191.5,1517.9 1195.8,1518.1 1200.1,1517.7 1204.4,1517.9 1208.7,1518.1 1213.0,1517.8 1217.3,1517.8 1221.6,1518.4 1225.9,1517.8 1230.2,1517.7 1234.5,1517.9 1238.8,1517.8 1243.1,1517.6 1247.4,1517.8 1251.7,1518.1 1256.0,1518.0 1260.4,1517.8 1264.7,1517.9 1269.0,1518.4 1273.3,1518.5 1277.6,1518.3 1281.9,1517.8 1286.2,1518.3 1290.5,1518.2 1294.8,1517.7 1299.1,1518.4 1303.4,1518.3 1307.7,1518.3 1312.0,1518.5 1316.3,1517.8 1320.6,1518.2 1324.9,1518.1 1329.2,1518.2 1333.5,1518.5 1337.8,1517.7 1342.1,1518.4 1346.5,1518.2 1350.8,1517.8 1355.1,1518.2 1359.4,1518.0 1363.7,1518.2 1368.0,1518.0 1372.3,1518.2 1376.6,1518.1 1380.9,1518.5 1385.2,1518.5 1389.5,1518.0 1393.8,1517.8 1398.1,1517.6 1402.4,1517.8 1406.7,1518.0 1411.0,1517.9 1415.3,1517.9 1419.6,1517.8 1423.9,1517.6 1428.2,1518.2 1432.6,1518.1 1436.9,1517.8 1441.2,1518.3 1445.5,1518.4 1449.8,1517.7 1454.1,1518.5 1458.4,1517.7 1462.7,1517.7 1467.0,1518.4 1471.3,1517.8 1475.6,1518.2 1479.9,1518.3 1484.2,1517.6 1488.5,1517.7 1492.8,1517.8 1497.1,1518.1 1501.4,1517.6 1505.7,1518.0 1510.0,1517.6 1514.3,1517.8 1518.7,1518.5 1523.0,1517.8 1527.3,1517.7 1531.6,1517.7 1535.9,1517.9 1540.2,1518.5 1544.5,1517.7 1548.8,1518.1 1553.1,1518.3 1557.4,1518.3 1561.7,1518.3 1566.0,1517.8 1570.3,1518.4 1574.6,1517.7 1578.9,1518.5 1583.2,1517.8 1587.5,1518.3 1591.8,1518.0 1596.1,1518.3 1600.4,1517.7 1604.8,1518.4 1609.1,1518.1 1613.4,1517.9 1617.7,1518.1 1622.0,1518.3 1626.3,1518.2 1630.6,1517.6 1634.9,1518.4 1639.2,1518.5 1643.5,1517.7 1647.8,1517.7 1652.1,1517.9 1656.4,1518.1 1660.7,1517.6 1665.0,1518.1 1669.3,1518.5 1673.6,1518.1 1677.9,1518.0 1682.2,1518.0 1686.5,1517.7 1690.9,1518.5 1695.2,1517.7 1699.5,1518.0 1703.8,1517.8 1708.1,1518.1 1712.4,1518.2 1716.7,1518.2 1721.0,1518.3 1725.3,1518.1 1729.6,1518.0 1733.9,1517.7 1738.2,1518.4 1742.5,1518.1 1746.8,1518.0 1751.1,1517.8 1755.4,1517.9 1759.7,1517.9 1764.0,1517.9 1768.3,1518.1 1772.6,1517.8 1777.0,1517.7 1781.3,1518.0 1785.6,1518.4 1789.9,1518.1" fill="none" stroke="#0072BD" stroke-width="3.3" stroke-linejoin="round"/>
<g transform="matrix(83.3580 0 0 84.2000 332.52 1634.33)"><text font-size="1" fill="#262626">0</text></g>
<g transform="matrix(83.3580 0 0 84.2000 644.91 1634.33)" fill="#262626"><g transform="translate(0.0000,0) matrix(1.082 0 0 1 0.0048 0)"><text font-size="1" clip-path="url(#c1)">1</text></g><text x="0.5562" font-size="1">00</text></g>
<g transform="matrix(83.3580 0 0 84.2000 1003.66 1634.33)"><text font-size="1" fill="#262626">200</text></g>
<g transform="matrix(83.3580 0 0 84.2000 1362.41 1634.33)"><text font-size="1" fill="#262626">300</text></g>
<g transform="matrix(83.3580 0 0 84.2000 1721.16 1634.33)"><text font-size="1" fill="#262626">400</text></g>
<g transform="matrix(83.3580 0 0 84.2000 274.74 1550.64)"><text font-size="1" fill="#262626">0</text></g>
<g transform="matrix(83.3580 0 0 84.2000 205.22 1457.74)" fill="#262626"><text x="0.0000" font-size="1">0.</text><g transform="translate(0.8340,0) matrix(1.082 0 0 1 0.0048 0)"><text font-size="1" clip-path="url(#c1)">1</text></g></g>
<g transform="matrix(83.3580 0 0 84.2000 205.22 1364.84)"><text font-size="1" fill="#262626">0.2</text></g>
<g transform="matrix(0 -91.2952 93.3333 0 149.47 1502.54)"><text font-size="1" fill="#262626">IMF5</text></g>
<g transform="matrix(92.6385 0 0 90.9383 756.06 1768.93)"><text font-size="1" fill="#000">Frequency/Hz</text></g>
<ellipse cx="818.5" cy="340.3" rx="40.2" ry="221.7" fill="none" stroke="#FF0000" stroke-width="3.3"/>
<ellipse cx="468.6" cy="937.8" rx="40.1" ry="219.5" fill="none" stroke="#FF0000" stroke-width="3.3"/>
<line x1="924.6" y1="144.9" x2="1058.7" y2="163.5" stroke="#FF0000" stroke-width="3.5"/>
<polygon points="862.8,138.5 953.8,116.9 924.6,144.9 944.4,180.4" fill="#FF0000"/>
<line x1="554.7" y1="748.5" x2="764.6" y2="763.3" stroke="#FF0000" stroke-width="3.5"/>
<polygon points="494.3,744.8 584.1,717.8 554.7,748.5 578.6,781.9" fill="#FF0000"/>
<g transform="matrix(84.2935 0 0 85.5124 1090.02 195.84)" fill="#FF0000"><g transform="translate(0.0000,0) matrix(1.082 0 0 1 0.0048 0)"><text font-size="1" clip-path="url(#c1)">1</text></g><text x="0.5562" font-size="1">30.2Hz</text></g>
<g transform="matrix(83.8213 0 0 86.2191 797.56 797.34)"><text font-size="1" fill="#FF0000">32.04Hz</text></g>
</svg>
</body></html>
